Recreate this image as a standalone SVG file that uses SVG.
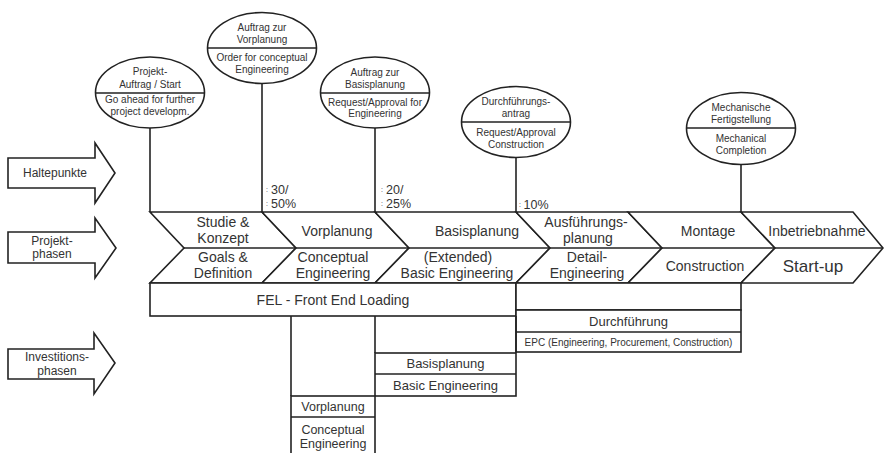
<svg xmlns="http://www.w3.org/2000/svg" width="884" height="453" viewBox="0 0 884 453">
<style>
.s{fill:#fff;stroke:#222;stroke-width:1.6;stroke-linejoin:miter}
.l{fill:none;stroke:#222;stroke-width:1.6}
text{font-family:"Liberation Sans",Arial,sans-serif;fill:#333;text-anchor:middle}
.t10{font-size:10px}
.t12{font-size:12px}
.t125{font-size:12.5px}
.t13{font-size:13px}
.t14{font-size:14px}
.pc{font-size:12.5px;text-anchor:start}
.mk{font-size:7px;text-anchor:start}
</style>
<rect width="884" height="453" fill="#fff"/>

<g id="connectors">
<line class="l" x1="150" y1="128" x2="150" y2="212"/>
<line class="l" x1="262" y1="83.5" x2="262" y2="212"/>
<line class="l" x1="375" y1="128" x2="375" y2="212"/>
<line class="l" x1="516" y1="157.5" x2="516" y2="212"/>
<line class="l" x1="741" y1="164" x2="741" y2="212"/>
</g>

<g id="arrow-haltepunkte">
<polygon class="s" points="8,158 95,158 95,143 115,173 95,203 95,188 8,188"/>
<text class="t12" x="55" y="177">Haltepunkte</text>
</g>
<g id="arrow-projektphasen">
<polygon class="s" points="8,232 95,232 95,218 116,248 95,278 95,263 8,263"/>
<text class="t12" x="52" y="245">Projekt-</text>
<text class="t12" x="52" y="258">phasen</text>
</g>
<g id="arrow-investitionsphasen">
<polygon class="s" points="8,349 94,349 94,333 115,363 94,394 94,379 8,379"/>
<text class="t12" x="57" y="361">Investitions-</text>
<text class="t12" x="57" y="375">phasen</text>
</g>

<g id="ms-projektauftrag">
<ellipse class="s" cx="150" cy="92.5" rx="54.5" ry="35.5"/>
<line class="l" x1="95.5" y1="93" x2="204.5" y2="93"/>
<text class="t10" x="150" y="75">Projekt-</text>
<text class="t10" x="150" y="87.5">Auftrag / Start</text>
<text class="t10" x="150" y="103">Go ahead for further</text>
<text class="t10" x="150" y="115">project developm.</text>
</g>
<g id="ms-vorplanung">
<ellipse class="s" cx="262" cy="48" rx="54.5" ry="35.5"/>
<line class="l" x1="207.5" y1="48" x2="316.5" y2="48"/>
<text class="t10" x="262" y="30.5">Auftrag zur</text>
<text class="t10" x="262" y="42.5">Vorplanung</text>
<text class="t10" x="262" y="60.5">Order for conceptual</text>
<text class="t10" x="262" y="72.5">Engineering</text>
</g>
<g id="ms-basisplanung">
<ellipse class="s" cx="375" cy="92.5" rx="54.5" ry="35.5"/>
<line class="l" x1="320.5" y1="93" x2="429.5" y2="93"/>
<text class="t10" x="375" y="76">Auftrag zur</text>
<text class="t10" x="375" y="88">Basisplanung</text>
<text class="t10" x="375" y="105.5">Request/Approval for</text>
<text class="t10" x="375" y="117">Engineering</text>
</g>
<g id="ms-durchfuehrung">
<ellipse class="s" cx="516" cy="122" rx="54.5" ry="35.5"/>
<line class="l" x1="461.5" y1="122" x2="570.5" y2="122"/>
<text class="t10" x="516" y="105">Durchführungs-</text>
<text class="t10" x="516" y="117">antrag</text>
<text class="t10" x="516" y="136">Request/Approval</text>
<text class="t10" x="516" y="147.5">Construction</text>
</g>
<g id="ms-mechanisch">
<ellipse class="s" cx="741" cy="128.5" rx="54.5" ry="36"/>
<line class="l" x1="686.5" y1="128" x2="795.5" y2="128"/>
<text class="t10" x="741" y="111">Mechanische</text>
<text class="t10" x="741" y="123">Fertigstellung</text>
<text class="t10" x="741" y="142">Mechanical</text>
<text class="t10" x="741" y="153.5">Completion</text>
</g>

<g id="percent-labels">
<text class="mk" x="266" y="192">:</text><text class="pc" x="271" y="193.5">30/</text>
<text class="mk" x="266" y="206">:</text><text class="pc" x="271" y="207.5">50%</text>
<text class="mk" x="381" y="192">:</text><text class="pc" x="386" y="193.5">20/</text>
<text class="mk" x="381" y="206">:</text><text class="pc" x="386" y="207.5">25%</text>
<text class="mk" x="519" y="207">:</text><text class="pc" x="523.5" y="208.5">10%</text>
</g>

<g id="phase-studie">
<polygon class="s" points="150,212 262,212 296,248 262,283 150,283 184,248"/>
<line class="l" x1="184" y1="248" x2="296" y2="248"/>
<text class="t14" x="223" y="227">Studie &amp;</text>
<text class="t14" x="223" y="243">Konzept</text>
<text class="t14" x="223" y="262">Goals &amp;</text>
<text class="t14" x="223" y="278">Definition</text>
</g>
<g id="phase-vorplanung">
<polygon class="s" points="262,212 375,212 409,248 375,283 262,283 296,248"/>
<line class="l" x1="296" y1="248" x2="409" y2="248"/>
<text class="t14" x="337" y="236">Vorplanung</text>
<text class="t14" x="333" y="262">Conceptual</text>
<text class="t14" x="333" y="278">Engineering</text>
</g>
<g id="phase-basisplanung">
<polygon class="s" points="375,212 516,212 550,248 516,283 375,283 409,248"/>
<line class="l" x1="409" y1="248" x2="550" y2="248"/>
<text class="t14" x="477" y="236">Basisplanung</text>
<text class="t14" x="458" y="262">(Extended)</text>
<text class="t14" x="457" y="278">Basic Engineering</text>
</g>
<g id="phase-ausfuehrung">
<polygon class="s" points="516,212 628,212 662,248 628,283 516,283 550,248"/>
<line class="l" x1="550" y1="248" x2="662" y2="248"/>
<text class="t14" x="586" y="227">Ausführungs-</text>
<text class="t14" x="588" y="243">planung</text>
<text class="t14" x="587" y="262">Detail-</text>
<text class="t14" x="587" y="278">Engineering</text>
</g>
<g id="phase-montage">
<polygon class="s" points="628,212 741,212 775,248 741,283 628,283 662,248"/>
<line class="l" x1="662" y1="248" x2="775" y2="248"/>
<text class="t14" x="708" y="236">Montage</text>
<text class="t14" x="705" y="271">Construction</text>
</g>
<g id="phase-inbetriebnahme">
<polygon class="s" points="741,212 853,212 883,248 853,283 741,283 775,248"/>
<line class="l" x1="775" y1="248" x2="883" y2="248"/>
<text class="t14" x="817" y="236">Inbetriebnahme</text>
<text x="813" y="272" style="font-size:17px">Start-up</text>
</g>

<g id="box-fel">
<rect class="s" x="150" y="283" width="366" height="33"/>
<text class="t14" x="333" y="305">FEL - Front End Loading</text>
</g>
<g id="box-durchfuehrung">
<rect class="s" x="516" y="283" width="225" height="27"/>
<rect class="s" x="516" y="310" width="225" height="42"/>
<line class="l" x1="516" y1="332" x2="741" y2="332"/>
<text class="t13" x="628.5" y="325.5">Durchführung</text>
<text class="t10" x="628.5" y="345.5">EPC (Engineering, Procurement, Construction)</text>
</g>
<g id="box-basisplanung">
<line class="l" x1="375" y1="316" x2="375" y2="353"/>
<line class="l" x1="516" y1="316" x2="516" y2="353"/>
<rect class="s" x="375" y="353" width="141" height="43"/>
<line class="l" x1="375" y1="374" x2="516" y2="374"/>
<text class="t13" x="445.5" y="367.5">Basisplanung</text>
<text class="t13" x="445.5" y="389.5">Basic Engineering</text>
</g>
<g id="box-vorplanung">
<line class="l" x1="291" y1="316" x2="291" y2="396"/>
<rect class="s" x="291" y="396" width="84" height="62"/>
<line class="l" x1="291" y1="417" x2="375" y2="417"/>
<text class="t125" x="333" y="410.5">Vorplanung</text>
<text class="t125" x="333" y="433.5">Conceptual</text>
<text class="t125" x="333" y="447.5">Engineering</text>
</g>
</svg>
